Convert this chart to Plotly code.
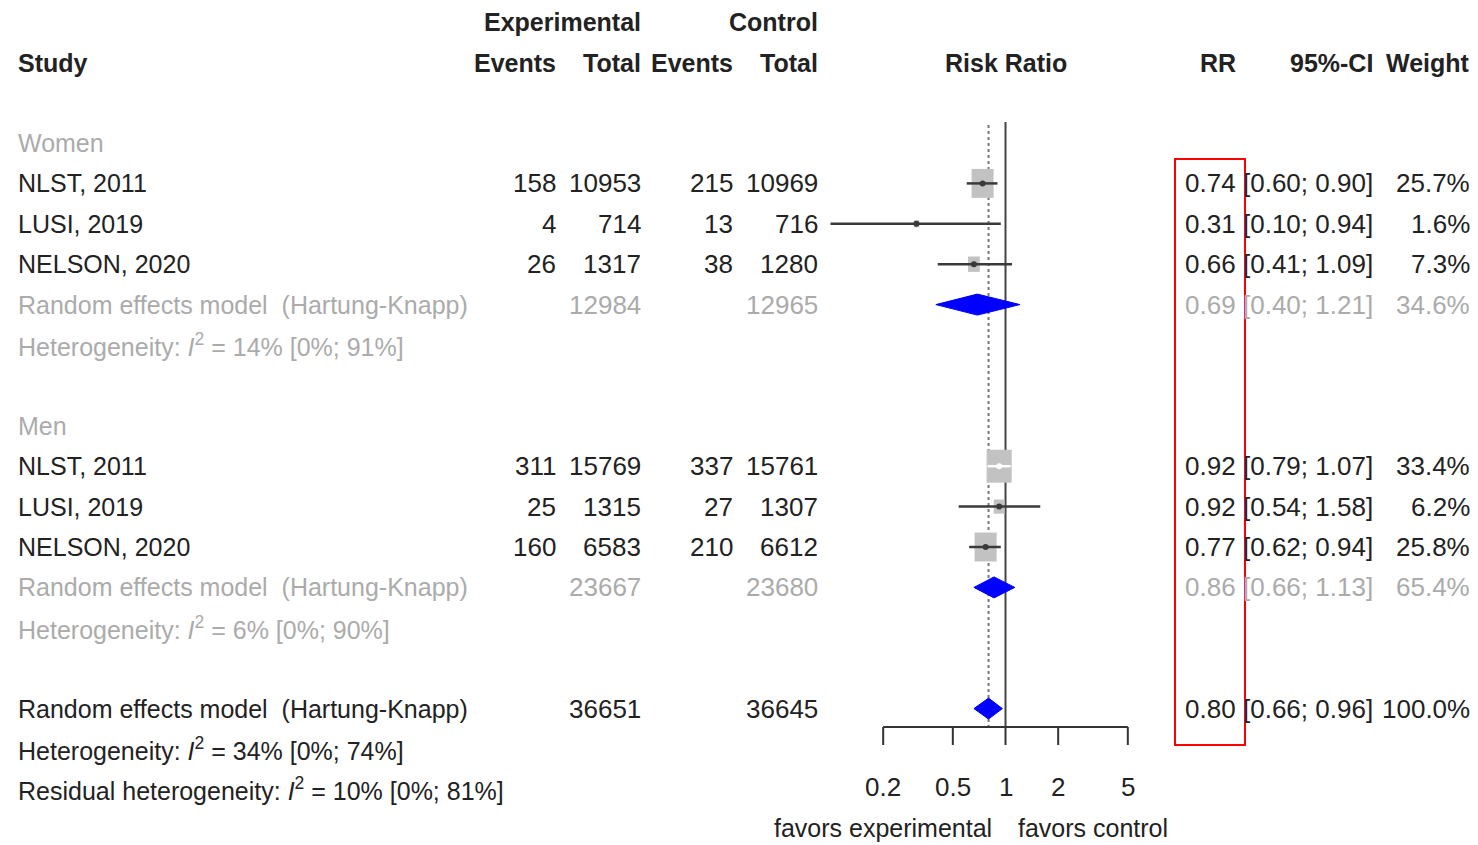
import math
import plotly.graph_objects as go

# ---------------- data ----------------
studies = ["NLST, 2011", "LUSI, 2019", "NELSON, 2020"]
women_exp_events = [158, 4, 26]
women_exp_total = [10953, 714, 1317]
women_ctrl_events = [215, 13, 38]
women_ctrl_total = [10969, 716, 1280]
women_rr = [0.74, 0.31, 0.66]
women_lo = [0.60, 0.10, 0.41]
women_hi = [0.90, 0.94, 1.09]
women_w = [25.7, 1.6, 7.3]
women_re = dict(exp_total=12984, ctrl_total=12965, rr=0.69, lo=0.40, hi=1.21, w=34.6,
                het="Heterogeneity: <i>I</i><sup>2</sup> = 14% [0%; 91%]")

men_exp_events = [311, 25, 160]
men_exp_total = [15769, 1315, 6583]
men_ctrl_events = [337, 27, 210]
men_ctrl_total = [15761, 1307, 6612]
men_rr = [0.92, 0.92, 0.77]
men_lo = [0.79, 0.54, 0.62]
men_hi = [1.07, 1.58, 0.94]
men_w = [33.4, 6.2, 25.8]
men_re = dict(exp_total=23667, ctrl_total=23680, rr=0.86, lo=0.66, hi=1.13, w=65.4,
              het="Heterogeneity: <i>I</i><sup>2</sup> = 6% [0%; 90%]")

overall = dict(exp_total=36651, ctrl_total=36645, rr=0.80, lo=0.66, hi=0.96, w=100.0)
overall_het = "Heterogeneity: <i>I</i><sup>2</sup> = 34% [0%; 74%]"
residual_het = "Residual heterogeneity: <i>I</i><sup>2</sup> = 10% [0%; 81%]"

tick_vals = [0.2, 0.5, 1, 2, 5]
tick_labels = ["0.2", "0.5", "1", "2", "5"]

# ---------------- layout geometry ----------------
OFF = 8                      # page body margin
WIN_W, WIN_H = 1478, 845
W, H = WIN_W - OFF, WIN_H - OFF
X1PX, DEC = 1005.5, 175.0      # window pixel of RR=1, pixels per decade
Y0PX, ROW = 143.0, 40.4        # window pixel of row 0, pixels per row
FONT = "Liberation Sans, Arial, Helvetica, sans-serif"
FS = 26
FS_LAB = 25
BLACK = "#222222"
GRAY = "#ababab"

def px(x):
    return (x - OFF) / W

def row_of(ypx):
    return (ypx - Y0PX) / ROW

fig = go.Figure()
ann = []

def txt(text, xpx, r, anchor="right", color=BLACK, bold=False, size=FS):
    if bold:
        text = "<b>" + text + "</b>"
    ann.append(dict(text=text, x=px(xpx), xref="paper", y=r, yref="y",
                    xanchor=anchor, yanchor="middle", showarrow=False,
                    font=dict(family=FONT, size=size, color=color)))

COL_EXP_EV, COL_EXP_T, COL_CT_EV, COL_CT_T = 558, 643, 735, 820
COL_RR, COL_CI, COL_W = 1238, 1375, 1472
LEFT = 16

# header
HB = 25
txt("Experimental", COL_EXP_T, -2.99, bold=True, size=HB)
txt("Control", COL_CT_T, -2.99, bold=True, size=HB)
txt("Study", LEFT, -1.98, anchor="left", bold=True, size=HB)
txt("Events", COL_EXP_EV, -1.98, bold=True, size=HB)
txt("Total", COL_EXP_T, -1.98, bold=True, size=HB)
txt("Events", COL_CT_EV, -1.98, bold=True, size=HB)
txt("Total", COL_CT_T, -1.98, bold=True, size=HB)
txt("Risk Ratio", 1006, -1.98, anchor="center", bold=True, size=HB)
txt("RR", COL_RR, -1.98, bold=True, size=HB)
txt("95%-CI", COL_CI, -1.98, bold=True, size=HB)
txt("Weight", COL_W, -1.98, bold=True, size=HB)

def ci_str(lo, hi):
    return "[%.2f; %.2f]" % (lo, hi)

def square(rr, w, r):
    hw = (4.34 * math.sqrt(w) / 2) / DEC
    hh = (5.7 * math.sqrt(w) / 2) / ROW
    xl, xr = rr * 10 ** (-hw), rr * 10 ** hw
    fig.add_trace(go.Scatter(x=[xl, xr, xr, xl, xl], y=[r - hh, r - hh, r + hh, r + hh, r - hh],
                             mode="lines", fill="toself", fillcolor="#c2c2c2",
                             line=dict(width=0, color="#c2c2c2"), hoverinfo="skip", showlegend=False))
    return xl, xr

def study_mark(rr, lo, hi, w, r):
    xl, xr = square(rr, w, r)
    inside = lo >= xl and hi <= xr
    col = "white" if inside else "#3a3a3a"
    fig.add_trace(go.Scatter(x=[lo, hi], y=[r, r], mode="lines",
                             line=dict(color=col, width=2.5), hoverinfo="skip", showlegend=False))
    fig.add_trace(go.Scatter(x=[rr], y=[r], mode="markers",
                             marker=dict(color=col, size=6, symbol="circle"),
                             hoverinfo="skip", showlegend=False))

def diamond(rr, lo, hi, r):
    hh = 10.5 / ROW
    fig.add_trace(go.Scatter(x=[lo, rr, hi, rr, lo], y=[r, r - hh, r, r + hh, r],
                             mode="lines", fill="toself", fillcolor="#0000ff",
                             line=dict(width=1, color="#0000ff"), hoverinfo="skip", showlegend=False))

# reference lines
top_r = row_of(122)
axis_r = row_of(727)
tick_r = row_of(745)
fig.add_trace(go.Scatter(x=[overall["rr"], overall["rr"]], y=[row_of(125), axis_r], mode="lines",
                         line=dict(color="#777777", width=2, dash="dot"),
                         hoverinfo="skip", showlegend=False))
fig.add_trace(go.Scatter(x=[1, 1], y=[top_r, axis_r], mode="lines",
                         line=dict(color="#444444", width=2), hoverinfo="skip", showlegend=False))

# axis
fig.add_trace(go.Scatter(x=[tick_vals[0], tick_vals[-1]], y=[axis_r, axis_r], mode="lines",
                         line=dict(color="#333333", width=2), hoverinfo="skip", showlegend=False))
for tv, tl in zip(tick_vals, tick_labels):
    fig.add_trace(go.Scatter(x=[tv, tv], y=[axis_r, tick_r], mode="lines",
                             line=dict(color="#333333", width=2), hoverinfo="skip", showlegend=False))
    ann.append(dict(text=tl, x=math.log10(tv), xref="x", y=row_of(787), yref="y",
                    xanchor="center", yanchor="middle", showarrow=False,
                    font=dict(family=FONT, size=FS, color=BLACK)))
txt("favors experimental", 994, row_of(828), anchor="right", size=FS_LAB)
txt("favors control", 1016, row_of(828), anchor="left", size=FS_LAB)

def subgroup(label, r0, ev_e, tot_e, ev_c, tot_c, rr, lo, hi, w, re):
    txt(label, LEFT, r0, anchor="left", color=GRAY, size=FS_LAB)
    for i in range(len(studies)):
        r = r0 + 1 + i
        txt(studies[i], LEFT, r, anchor="left", size=FS_LAB)
        txt(str(ev_e[i]), COL_EXP_EV, r)
        txt(str(tot_e[i]), COL_EXP_T, r)
        txt(str(ev_c[i]), COL_CT_EV, r)
        txt(str(tot_c[i]), COL_CT_T, r)
        txt("%.2f" % rr[i], COL_RR, r)
        txt(ci_str(lo[i], hi[i]), COL_CI, r)
        txt("%.1f%%" % w[i], COL_W, r)
        study_mark(rr[i], lo[i], hi[i], w[i], r)
    r = r0 + 4
    txt("Random effects model  (Hartung-Knapp)", LEFT, r, anchor="left", color=GRAY, size=FS_LAB)
    txt(str(re["exp_total"]), COL_EXP_T, r, color=GRAY)
    txt(str(re["ctrl_total"]), COL_CT_T, r, color=GRAY)
    txt("%.2f" % re["rr"], COL_RR, r, color=GRAY)
    txt(ci_str(re["lo"], re["hi"]), COL_CI, r, color=GRAY)
    txt("%.1f%%" % re["w"], COL_W, r, color=GRAY)
    diamond(re["rr"], re["lo"], re["hi"], r)
    txt(re["het"], LEFT, r0 + 5, anchor="left", color=GRAY, size=FS_LAB)

subgroup("Women", 0, women_exp_events, women_exp_total, women_ctrl_events, women_ctrl_total,
         women_rr, women_lo, women_hi, women_w, women_re)
subgroup("Men", 7, men_exp_events, men_exp_total, men_ctrl_events, men_ctrl_total,
         men_rr, men_lo, men_hi, men_w, men_re)

r = 14
txt("Random effects model  (Hartung-Knapp)", LEFT, r, anchor="left", size=FS_LAB)
txt(str(overall["exp_total"]), COL_EXP_T, r)
txt(str(overall["ctrl_total"]), COL_CT_T, r)
txt("%.2f" % overall["rr"], COL_RR, r)
txt(ci_str(overall["lo"], overall["hi"]), COL_CI, r)
txt("%.1f%%" % overall["w"], COL_W, r)
diamond(overall["rr"], overall["lo"], overall["hi"], r)
txt(overall_het, LEFT, 15, anchor="left", size=FS_LAB)
txt(residual_het, LEFT, 16, anchor="left", size=FS_LAB)

fig.update_layout(
    width=W, height=H, margin=dict(l=0, r=0, t=0, b=0),
    paper_bgcolor="white", plot_bgcolor="white",
    xaxis=dict(type="log", range=[(OFF - X1PX) / DEC, (WIN_W - X1PX) / DEC], visible=False,
               domain=[0, 1], fixedrange=True),
    yaxis=dict(range=[row_of(WIN_H), row_of(OFF)], visible=False, domain=[0, 1], fixedrange=True),
    annotations=ann,
    shapes=[dict(type="rect", xref="paper", yref="paper",
                 x0=px(1175), x1=px(1245), y0=1 - (745 - OFF) / H, y1=1 - (159 - OFF) / H,
                 line=dict(color="#ff0000", width=2), fillcolor="rgba(0,0,0,0)")],
    showlegend=False,
)

fig.write_html("out.html")
